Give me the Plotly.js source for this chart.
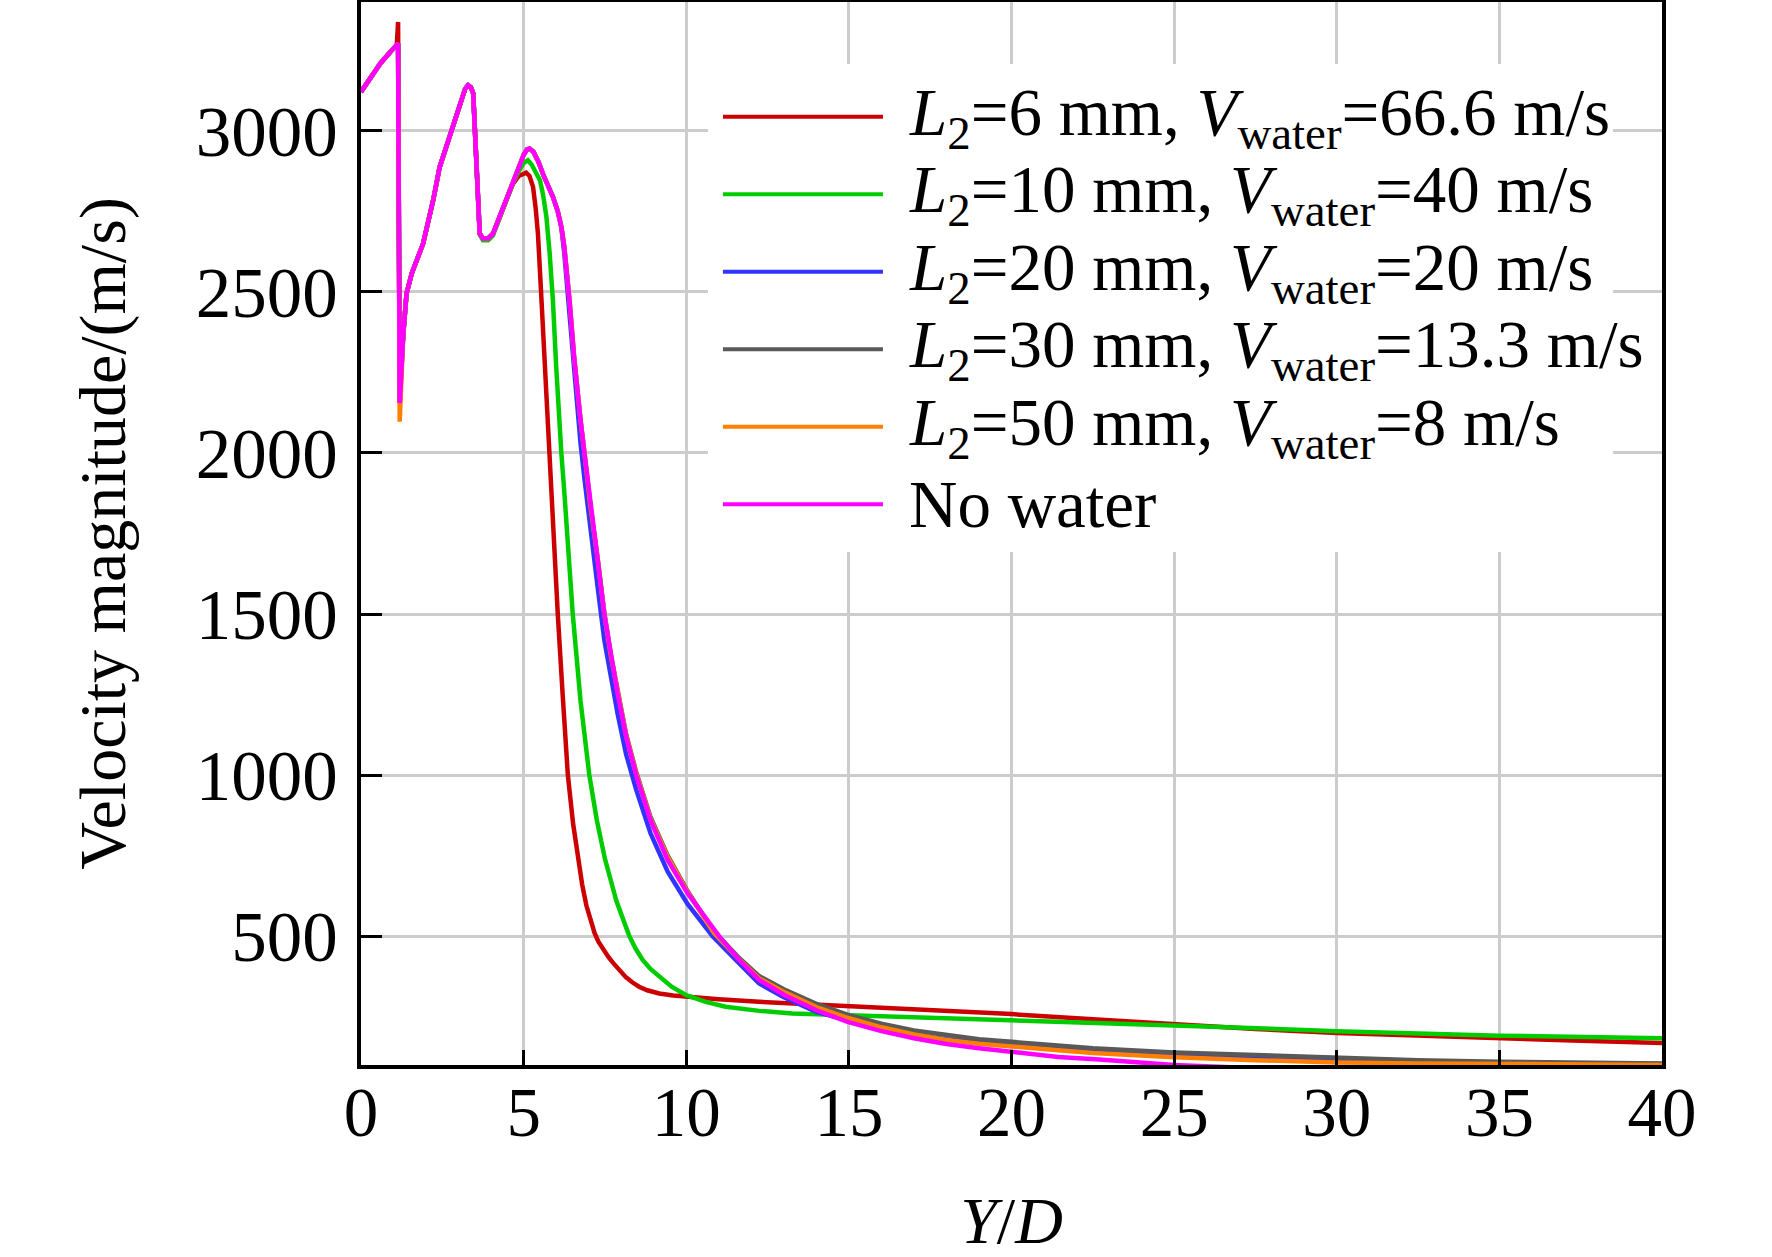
<!DOCTYPE html>
<html>
<head>
<meta charset="utf-8">
<script src="https://cdn.plot.ly/plotly-3.0.1.min.js"></script>
<style>
  html, body { margin: 0; padding: 0; background: #fff; }
  #chart { width: 1772px; height: 1257px; }
</style>
</head>
<body>
<div id="chart"></div>
<script>
// Shared start of every profile (Y/D, velocity in m/s)
const preX = [0, 0.3, 0.6, 0.9, 1.10, 1.14, 1.19, 1.25, 1.30, 1.40, 1.56, 1.91, 2.22, 2.42, 2.62, 2.83, 3.09, 3.20, 3.29, 3.38, 3.45, 3.50, 3.56, 3.60, 3.65, 3.75, 3.91, 4.06, 4.26, 4.47];
const preY = [3121, 3168, 3210, 3245, 3265, 3271, 2155, 2300, 2371, 2495, 2557, 2650, 2785, 2888, 2950, 3012, 3095, 3130, 3142, 3135, 3116, 2992, 2837, 2733, 2681, 2666, 2666, 2681, 2733, 2785];
const preYRed = [3121, 3168, 3210, 3245, 3265, 3338, 2155, 2300, 2371, 2495, 2557, 2650, 2785, 2888, 2950, 3012, 3095, 3130, 3142, 3135, 3116, 2992, 2837, 2733, 2681, 2666, 2666, 2681, 2733, 2785];
const preYGreen = [3121, 3168, 3210, 3245, 3265, 3271, 2155, 2300, 2371, 2495, 2557, 2650, 2785, 2888, 2950, 3012, 3095, 3130, 3142, 3135, 3116, 2992, 2837, 2733, 2678, 2660, 2660, 2676, 2730, 2783];
const preYOrange = [3121, 3168, 3210, 3245, 3265, 3271, 2097, 2300, 2371, 2495, 2557, 2650, 2785, 2888, 2950, 3012, 3095, 3130, 3142, 3135, 3116, 2992, 2837, 2733, 2681, 2666, 2666, 2681, 2733, 2785];

// L2 = 6 mm
const redX = [4.67, 4.85, 5.0, 5.08, 5.18, 5.29, 5.37, 5.44, 5.55, 5.65, 5.75, 5.8, 5.95, 6.05, 6.2, 6.36, 6.52, 6.67, 6.8, 6.93, 7.05, 7.18, 7.3, 7.45, 7.6, 7.75, 7.95, 8.15, 8.35, 8.55, 8.8, 9.17, 9.6, 10, 11, 12.24, 13.5, 15, 17.5, 20, 22.5, 25, 27.5, 30, 32.5, 35, 37.5, 40];
const redY = [2835, 2860, 2868, 2870, 2860, 2826, 2760, 2681, 2474, 2270, 2090, 2000, 1666, 1500, 1250, 1000, 850, 736, 660, 595, 548, 510, 483, 458, 436, 417, 393, 372, 356, 343, 332, 322, 316, 312, 304, 296, 290, 284, 272, 258, 242, 226, 212, 199, 190, 183, 175, 168];

// L2 = 10 mm
const greenX = [4.67, 4.88, 5.0, 5.13, 5.25, 5.38, 5.5, 5.6, 5.7, 5.8, 5.9, 6.0, 6.1, 6.16, 6.25, 6.39, 6.51, 6.75, 7.02, 7.25, 7.5, 7.85, 8.05, 8.25, 8.45, 8.66, 8.9, 9.17, 9.55, 10, 10.6, 11.21, 12.24, 13.26, 15, 17.5, 20, 25, 30, 35, 40];
const greenY = [2837, 2880, 2900, 2909, 2895, 2870, 2847, 2800, 2733, 2620, 2474, 2270, 2062, 2000, 1880, 1666, 1500, 1230, 1000, 860, 740, 610, 550, 500, 460, 426, 398, 374, 343, 317, 296, 281, 268, 260, 255, 247, 240, 223, 205, 191, 183];

// L2 = 20 mm
const blueX = [4.67, 4.88, 5.0, 5.1, 5.18, 5.3, 5.45, 5.6, 5.75, 5.9, 6.05, 6.16, 6.25, 6.35, 6.41, 6.55, 6.68, 6.75, 6.87, 7.05, 7.28, 7.48, 7.68, 7.89, 8.15, 8.46, 8.9, 9.43, 10.04, 10.5, 10.81, 11.63, 12.24, 13, 14, 15, 16, 17, 18, 19, 20, 22.5, 25, 30, 35, 40];
const blueY = [2837, 2895, 2925, 2942, 2945, 2935, 2905, 2865, 2830, 2795, 2750, 2700, 2620, 2500, 2420, 2240, 2100, 2030, 1920, 1760, 1580, 1420, 1300, 1190, 1065, 955, 820, 700, 600, 540, 500, 415, 353, 310, 265, 237, 213, 194, 180, 170, 165, 148, 131, 115, 106, 103];

// L2 = 30 mm
const grayX = [4.67, 4.88, 5.0, 5.1, 5.18, 5.3, 5.45, 5.6, 5.75, 5.9, 6.05, 6.16, 6.25, 6.35, 6.41, 6.55, 6.68, 6.75, 6.87, 7.05, 7.28, 7.48, 7.68, 7.89, 8.15, 8.46, 8.9, 9.43, 10.04, 10.5, 10.9, 11.6, 12.24, 13, 14, 15, 16, 17, 18, 19, 20, 21.44, 22.5, 25, 27.5, 30, 32.5, 35, 37.5, 40];
const grayY = [2837, 2895, 2925, 2942, 2945, 2935, 2905, 2865, 2830, 2795, 2750, 2702, 2640, 2550, 2474, 2300, 2160, 2102, 2000, 1840, 1670, 1505, 1375, 1260, 1128, 1010, 870, 750, 640, 568, 510, 435, 376, 335, 290, 255, 228, 207, 192, 180, 172, 162, 152, 139, 130, 122, 115, 110, 107, 105];

// L2 = 50 mm
const orangeX = [4.67, 4.88, 5.0, 5.1, 5.18, 5.3, 5.45, 5.6, 5.75, 5.9, 6.05, 6.16, 6.25, 6.35, 6.41, 6.55, 6.68, 6.75, 6.87, 7.05, 7.28, 7.48, 7.68, 7.89, 8.15, 8.46, 8.9, 9.43, 10.04, 10.5, 10.85, 11.6, 12.24, 13, 14, 15, 16, 17, 18, 19, 20, 21.44, 22.5, 25, 27.5, 30, 32.5, 35, 37.5, 40];
const orangeY = [2837, 2895, 2925, 2942, 2945, 2935, 2905, 2865, 2830, 2795, 2750, 2702, 2640, 2550, 2474, 2300, 2160, 2102, 2000, 1840, 1668, 1502, 1372, 1256, 1124, 1005, 865, 745, 637, 565, 510, 430, 369, 327, 280, 245, 217, 195, 178, 166, 159, 146, 137, 124, 115, 108, 105, 103, 101, 100];

// No water
const magentaX = [4.67, 4.88, 5.0, 5.1, 5.18, 5.3, 5.45, 5.6, 5.75, 5.9, 6.05, 6.16, 6.25, 6.35, 6.41, 6.55, 6.68, 6.75, 6.87, 7.05, 7.28, 7.48, 7.68, 7.89, 8.15, 8.46, 8.9, 9.43, 10.04, 10.5, 11.01, 11.63, 12.24, 13, 14, 14.96, 16, 17, 18, 19, 20, 21.44, 22.7, 24, 25, 27, 30, 35, 40];
const magentaY = [2837, 2895, 2925, 2942, 2945, 2935, 2905, 2865, 2830, 2795, 2750, 2702, 2640, 2550, 2474, 2300, 2160, 2102, 2000, 1840, 1666, 1500, 1370, 1253, 1120, 1000, 860, 736, 633, 568, 500, 426, 364, 318, 270, 234, 205, 183, 165, 152, 141, 125, 117, 107, 100, 92, 84, 72, 62];

const seriesNames = [
    '<i>L</i><sub>2</sub>=6 mm, <i>V</i><sub>water</sub>=66.6 m/s',
    '<i>L</i><sub>2</sub>=10 mm, <i>V</i><sub>water</sub>=40 m/s',
    '<i>L</i><sub>2</sub>=20 mm, <i>V</i><sub>water</sub>=20 m/s',
    '<i>L</i><sub>2</sub>=30 mm, <i>V</i><sub>water</sub>=13.3 m/s',
    '<i>L</i><sub>2</sub>=50 mm, <i>V</i><sub>water</sub>=8 m/s',
    'No water'
];
const seriesColors = ['#CC0000', '#00CC00', '#3333FF', '#595959', '#FF8000', '#FF00FF'];

const xTicks = [0, 5, 10, 15, 20, 25, 30, 35, 40];
const yTicks = [500, 1000, 1500, 2000, 2500, 3000];

const FONT = 'Liberation Serif, Times New Roman, serif';

const seriesData = [
    [preX.concat(redX), preYRed.concat(redY)],
    [preX.concat(greenX), preYGreen.concat(greenY)],
    [preX.concat(blueX), preY.concat(blueY)],
    [preX.concat(grayX), preY.concat(grayY)],
    [preX.concat(orangeX), preYOrange.concat(orangeY)],
    [preX.concat(magentaX), preY.concat(magentaY)]
];

const data = seriesData.map((s, i) => ({
    x: s[0],
    y: s[1],
    name: seriesNames[i],
    type: 'scatter',
    mode: 'lines',
    line: { color: seriesColors[i], width: 4.5 },
    showlegend: false
}));

// hand-made legend: long sample lines, white box over the grid
const shapes = [{
    type: 'rect', xref: 'paper', yref: 'paper', layer: 'above',
    x0: 0.2667, x1: 0.9623, y0: 0.4826, y1: 0.9417,
    fillcolor: '#ffffff', line: { width: 0 }
}];
const annotations = [];
seriesNames.forEach((nm, i) => {
    const yy = 0.8921 - i * 0.0729;
    shapes.push({
        type: 'line', xref: 'paper', yref: 'paper', layer: 'above',
        x0: 0.2782, x1: 0.4012, y0: yy, y1: yy,
        line: { color: seriesColors[i], width: 4 }
    });
    annotations.push({
        xref: 'paper', yref: 'paper', x: 0.4197, y: yy,
        xanchor: 'left', yanchor: 'middle', showarrow: false,
        text: nm, font: { family: FONT, size: 67, color: '#000' }
    });
});

const layout = {
    width: 1772,
    height: 1257,
    margin: { l: 361, r: 110, t: 2, b: 192 },
    paper_bgcolor: '#ffffff',
    plot_bgcolor: '#ffffff',
    showlegend: false,
    font: { family: FONT, size: 68, color: '#000' },
    xaxis: {
        range: [0, 40],
        tickvals: xTicks,
        ticks: 'inside', ticklen: 15, tickwidth: 3, tickcolor: '#000',
        showline: true, linecolor: '#000', linewidth: 4, mirror: true,
        showgrid: true, gridcolor: '#cccccc', gridwidth: 3,
        zeroline: false,
        ticklabelstandoff: -16,
        tickfont: { family: FONT, size: 69, color: '#000' },
        title: { text: '<i>Y</i>/<i>D</i>', font: { family: FONT, size: 66, color: '#000' }, standoff: 84 }
    },
    yaxis: {
        range: [100, 3400],
        tickvals: yTicks,
        ticks: 'inside', ticklen: 21, tickwidth: 3, tickcolor: '#000',
        showline: true, linecolor: '#000', linewidth: 4, mirror: true,
        showgrid: true, gridcolor: '#cccccc', gridwidth: 3,
        zeroline: false,
        ticklabelstandoff: 5,
        tickfont: { family: FONT, size: 71, color: '#000' },
        title: { text: 'Velocity magnitude/(m/s)', font: { family: FONT, size: 66, color: '#000' }, standoff: 50 }
    },
    shapes: shapes,
    annotations: annotations
};

Plotly.newPlot('chart', data, layout, { displayModeBar: false, staticPlot: true });
</script>
</body>
</html>
